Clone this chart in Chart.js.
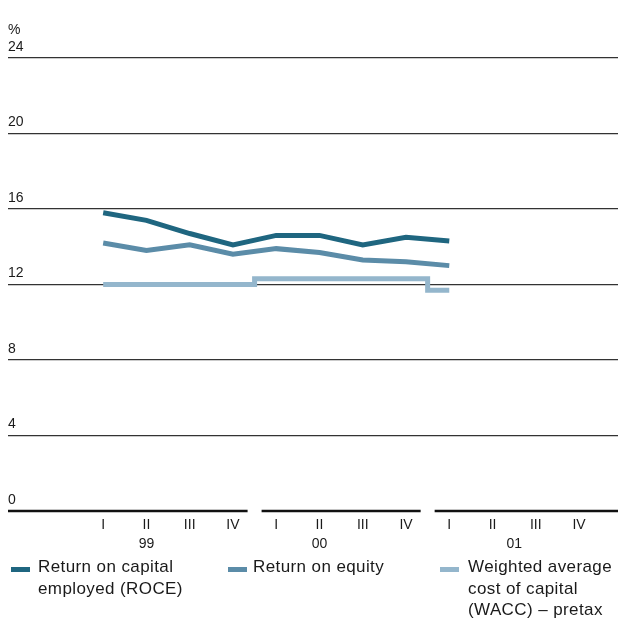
<!DOCTYPE html>
<html>
<head>
<meta charset="utf-8">
<script src="https://cdn.jsdelivr.net/npm/chart.js@4"></script>
<style>
  html, body { margin: 0; padding: 0; background: #fff; }
  #wrap { position: relative; width: 618px; height: 619px; overflow: hidden; }
  canvas { position: absolute; left: 0; top: 0; }
  .leg { position: absolute; top: 556px; font-family: "Liberation Sans", Arial, sans-serif;
         font-size: 17px; letter-spacing: 0.4px; line-height: 21.5px; color: #1a1a1a; }
  .sw { position: absolute; top: 567px; width: 19px; height: 5px; }
</style>
</head>
<body>
<div id="wrap">
  <canvas id="chart" width="618" height="619"></canvas>
  <div class="sw" style="left:11px;background:#1f6680"></div>
  <div class="leg" style="left:38px">Return on capital<br>employed (ROCE)</div>
  <div class="sw" style="left:228px;background:#5b8ca8"></div>
  <div class="leg" style="left:253px">Return on equity</div>
  <div class="sw" style="left:440px;background:#94b6cc"></div>
  <div class="leg" style="left:468px">Weighted average<br>cost of capital<br>(WACC) – pretax</div>
</div>
<script>
const quarterLabels = ['I', 'II', 'III', 'IV', 'I', 'II', 'III', 'IV', 'I', 'II', 'III', 'IV'];
const yearLabels = ['99', '00', '01'];
const yearTickValues = [1, 5, 9.5];
const yearBreaks = [3.5, 7.5];
const roce = [15.8, 15.4, 14.7, 14.1, 14.6, 14.6, 14.1, 14.5, 14.3];
const roe = [14.2, 13.8, 14.1, 13.6, 13.9, 13.7, 13.3, 13.2, 13.0];
const wacc = [12.0, 12.0, 12.0, 12.0, 12.3, 12.3, 12.3, 12.3, 11.7];
const yTicks = [0, 4, 8, 12, 16, 20, 24];

const font = { family: '"Liberation Sans", Arial, sans-serif', size: 14 };

function points(arr) {
  return arr.map((v, i) => ({ x: i, y: v }));
}

// broken baseline under the chart plus the "%" unit label
const extras = {
  id: 'extras',
  afterDatasetsDraw(chart) {
    const ctx = chart.ctx;
    const x = chart.scales.x;
    const y = chart.scales.y;
    const area = chart.chartArea;
    const y0 = y.getPixelForValue(0);
    const gap = 7;
    let start = area.left;
    ctx.save();
    ctx.strokeStyle = '#111';
    ctx.lineWidth = 2.5;
    yearBreaks.concat([null]).forEach(b => {
      const end = b === null ? area.right : x.getPixelForValue(b) - gap;
      ctx.beginPath();
      ctx.moveTo(start, y0);
      ctx.lineTo(end, y0);
      ctx.stroke();
      if (b !== null) start = x.getPixelForValue(b) + gap;
    });
    ctx.fillStyle = '#1a1a1a';
    ctx.font = '14px "Liberation Sans", Arial, sans-serif';
    ctx.textBaseline = 'middle';
    ctx.fillText('%', area.left, y.getPixelForValue(24) - 28);
    ctx.restore();
  }
};

new Chart(document.getElementById('chart'), {
  type: 'line',
  data: {
    datasets: [
      { label: 'Return on capital employed (ROCE)', data: points(roce), borderColor: '#1f6680', borderWidth: 5, pointRadius: 0, tension: 0 },
      { label: 'Return on equity', data: points(roe), borderColor: '#5b8ca8', borderWidth: 5, pointRadius: 0, tension: 0 },
      { label: 'Weighted average cost of capital (WACC) – pretax', data: points(wacc), borderColor: '#94b6cc', borderWidth: 5, pointRadius: 0, stepped: 'middle' }
    ]
  },
  options: {
    responsive: false,
    animation: false,
    layout: { padding: { left: 8, right: 0, top: 58, bottom: 64 } },
    plugins: { legend: { display: false }, tooltip: { enabled: false } },
    scales: {
      y: {
        min: 0, max: 24,
        afterBuildTicks: s => { s.ticks = yTicks.map(v => ({ value: v })); },
        afterFit: s => { s.width = 0; },
        border: { display: false },
        grid: {
          color: c => (c.tick && c.tick.value === 0 ? 'rgba(0,0,0,0)' : '#333'),
          lineWidth: 1.3,
          drawTicks: false
        },
        ticks: { mirror: true, padding: 0, labelOffset: -11, color: '#1a1a1a', font: font }
      },
      x: {
        type: 'linear',
        min: -2.2, max: 11.9,
        weight: 0,
        afterBuildTicks: s => { s.ticks = quarterLabels.map((_, i) => ({ value: i })); },
        afterFit: s => { s.height = 22; },
        border: { display: false },
        grid: { display: false, drawTicks: false },
        ticks: { padding: 6, color: '#1a1a1a', font: font, maxRotation: 0, autoSkip: false,
                 callback: (v, i) => quarterLabels[i] }
      },
      x2: {
        type: 'linear',
        position: 'bottom',
        min: -2.2, max: 11.9,
        weight: 1,
        afterBuildTicks: s => { s.ticks = yearTickValues.map(v => ({ value: v })); },
        afterFit: s => { s.height = 22; },
        border: { display: false },
        grid: { display: false, drawTicks: false },
        ticks: { padding: 3, color: '#1a1a1a', font: font, maxRotation: 0, autoSkip: false,
                 callback: (v, i) => yearLabels[i] }
      }
    }
  },
  plugins: [extras]
});
</script>
</body>
</html>
